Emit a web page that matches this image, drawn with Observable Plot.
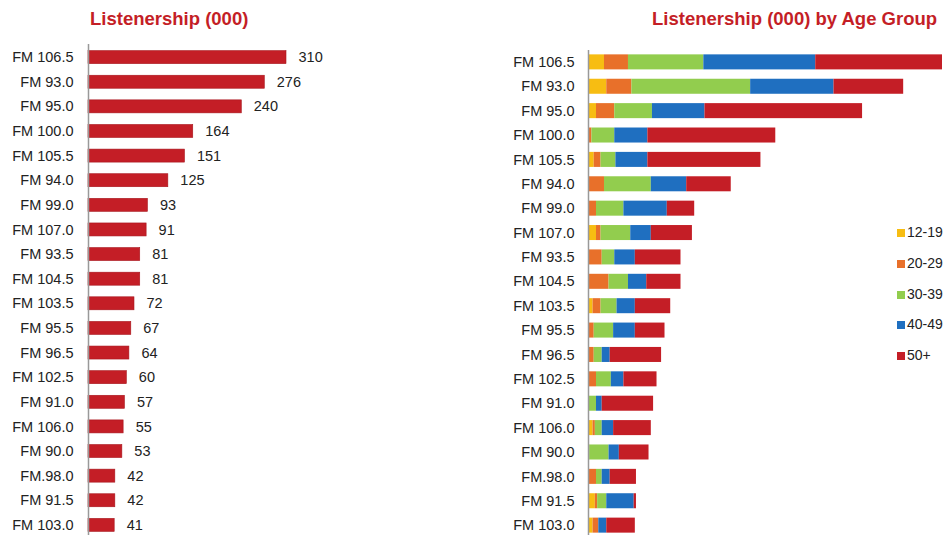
<!DOCTYPE html>
<html>
<head>
<meta charset="utf-8">
<script src="https://cdn.jsdelivr.net/npm/d3@7"></script>
<script src="https://cdn.jsdelivr.net/npm/@observablehq/plot@0.6"></script>
<style>
  html, body { margin: 0; padding: 0; background: #fff; overflow: hidden; }
  #root { position: relative; width: 947px; height: 535px; overflow: hidden; font-family: "Liberation Sans", Arial, sans-serif; }
  .title { position: absolute; top: 10px; font-weight: bold; font-size: 18.5px; line-height: 18.5px; color: #c41e26; white-space: nowrap; }
  .panel { position: absolute; top: 0; }
  .leg { position: absolute; font-size: 14px; color: #222; white-space: nowrap; line-height: 14px; }
  .leg span.sw { display: inline-block; width: 8px; height: 8px; margin-right: 2px; vertical-align: 0px; }
</style>
</head>
<body>
<div id="root">
  <div class="title" style="left:90px">Listenership (000)</div>
  <div class="title" style="left:652px">Listenership (000) by Age Group</div>
  <div class="panel" id="left" style="left:0px"></div>
  <div class="panel" id="right" style="left:470px"></div>
  <div id="legend"></div>
</div>
<script>
const stations = ["FM 106.5","FM 93.0","FM 95.0","FM 100.0","FM 105.5","FM 94.0","FM 99.0","FM 107.0","FM 93.5","FM 104.5","FM 103.5","FM 95.5","FM 96.5","FM 102.5","FM 91.0","FM 106.0","FM 90.0","FM.98.0","FM 91.5","FM 103.0"];
const listeners = [310,276,240,164,151,125,93,91,81,81,72,67,64,60,57,55,53,42,42,41];

const ageGroups = ["12-19","20-29","30-39","40-49","50+"];
const ageColors = ["#f7bd12","#e8702a","#92cd4e","#1f6fc0","#c41e26"];
const age12_19 = [14,16,7,0,5,0,0,7,0,0,4,0,0,0,0,4,0,0,6,4];
const age20_29 = [21,22,16,3,6,14,7,4,12,18,7,5,5,7,0,2,1,7,2,5];
const age30_39 = [66,104,33,20,13,41,24,26,11,17,14,17,7,13,7,6,17,5,8,0];
const age40_49 = [98,73,46,29,28,31,38,18,18,16,16,19,7,11,5,10,9,7,24,7];
const age50p   = [111,61,138,112,99,39,24,36,40,30,31,26,45,29,45,33,26,23,2,25];

const leftData = stations.map((s, i) => ({station: s, value: listeners[i]}));
const ageSeries = [age12_19, age20_29, age30_39, age40_49, age50p];
const stackData = [];
stations.forEach((s, i) => {
  ageGroups.forEach((g, j) => stackData.push({station: s, group: g, value: ageSeries[j][i]}));
});

const font = "Liberation Sans, Arial, sans-serif";

const left = Plot.plot({
  width: 470, height: 543,
  marginLeft: 88, marginRight: 184, marginTop: 39, marginBottom: 0,
  x: {domain: [0, 310], axis: null},
  y: {domain: stations, padding: 0.472, round: false, label: null},
  style: {fontFamily: font, fontSize: "14.5px", color: "#222", background: "transparent"},
  marks: [
    Plot.barX(leftData, {x: "value", y: "station", fill: "#c41e26", stroke: "#a8161d", strokeWidth: 0.6}),
    Plot.text(leftData, {x: "value", y: "station", text: d => String(d.value), textAnchor: "start", dx: 12, fontSize: 14.5, fill: "#222"}),
    Plot.axisY({tickSize: 0, tickPadding: 15, fontSize: 14.5, label: null}),
    Plot.ruleX([0], {stroke: "#999", strokeWidth: 1.5, insetTop: 5})
  ]
});
document.getElementById("left").appendChild(left);

const right = Plot.plot({
  width: 477, height: 542,
  marginLeft: 118, marginRight: 5, marginTop: 45, marginBottom: 0,
  x: {domain: [0, 310], axis: null},
  y: {domain: stations, padding: 0.384, round: false, label: null},
  color: {domain: ageGroups, range: ageColors},
  style: {fontFamily: font, fontSize: "14.5px", color: "#222", background: "transparent"},
  marks: [
    Plot.barX(stackData, Plot.stackX({x: "value", y: "station", fill: "group", order: null})),
    Plot.axisY({tickSize: 0, tickPadding: 14, fontSize: 14.5, label: null}),
    Plot.ruleX([0], {stroke: "#999", strokeWidth: 1.5, insetTop: 5})
  ]
});
document.getElementById("right").appendChild(right);

const legend = document.getElementById("legend");
ageGroups.forEach((g, i) => {
  const d = document.createElement("div");
  d.className = "leg";
  d.style.left = "897px";
  d.style.top = (225 + i * 30.8) + "px";
  d.innerHTML = `<span class="sw" style="background:${ageColors[i]}"></span>${g}`;
  legend.appendChild(d);
});
</script>
</body>
</html>
